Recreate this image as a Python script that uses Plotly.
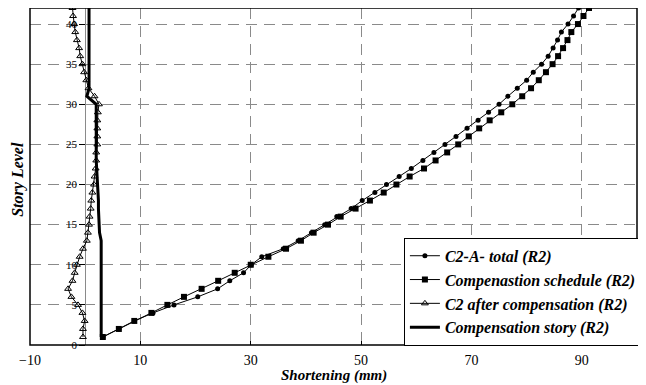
import plotly.graph_objects as go

stories = list(range(1, 43))

total = [3.2, 6.1, 8.9, 12.3, 16.1, 20.4, 24.0, 26.2, 28.7, 30.1,
         32.0, 35.9, 38.6, 41.0, 43.4, 45.6, 48.2, 50.2, 52.5, 54.6,
         56.9, 59.1, 61.2, 63.2, 65.2, 67.2, 69.2, 71.2, 73.1, 75.0,
         76.6, 78.3, 80.0, 81.2, 82.7, 83.9, 84.8, 85.6, 86.3, 87.5,
         88.5, 89.4]

schedule = [3.2, 6.1, 8.9, 12.0, 14.9, 17.9, 21.1, 24.1, 27.1, 30.0,
            33.2, 36.4, 39.1, 41.4, 44.0, 46.3, 49.0, 51.6, 54.1, 56.4,
            58.8, 61.4, 63.5, 65.6, 67.6, 69.5, 71.4, 73.3, 75.4, 77.4,
            79.2, 80.8, 82.2, 83.5, 84.7, 85.7, 86.6, 87.4, 88.1, 89.3,
            90.3, 91.3]

after_comp = [-0.4, -0.4, -0.1, -0.5, -1.3, -2.5, -3.1, -2.3, -1.9, -1.5,
              -1.0, -0.4, 0.3, 0.5, 0.7, 0.8, 1.0, 1.1, 1.3, 1.6,
              1.7, 1.9, 2.0, 2.0, 2.2, 2.2, 2.2, 2.2, 2.3, 2.5,
              1.7, 0.6, 0.2, -0.2, -0.5, -0.9, -1.1, -1.5, -1.8, -2.0,
              -2.2, -2.3]

comp_story = [2.9, 2.9, 2.9, 2.9, 2.9, 2.9, 2.9, 2.9, 2.9, 2.9,
              2.9, 2.9, 2.9, 2.6, 2.5, 2.5, 2.4, 2.4, 2.3, 2.3,
              2.2, 2.1, 2.0, 2.0, 2.0, 2.0, 2.0, 2.0, 2.0, 2.0,
              0.3, 0.7, 0.7, 0.7, 0.7, 0.7, 0.7, 0.7, 0.7, 0.7,
              0.7, 0.7]

x_ticks = [-10, 10, 30, 50, 70, 90]
y_ticks = [0, 5, 10, 15, 20, 25, 30, 35, 40]

SERIF = "Liberation Serif, Times New Roman, DejaVu Serif, serif"

fig = go.Figure()
fig.add_trace(go.Scatter(
    x=total, y=stories, mode="lines+markers", name="C2-A- total (R2)",
    line=dict(color="black", width=1),
    marker=dict(symbol="circle", size=5, color="black")))
fig.add_trace(go.Scatter(
    x=schedule, y=stories, mode="lines+markers", name="Compenastion schedule (R2)",
    line=dict(color="black", width=1),
    marker=dict(symbol="square", size=6, color="black")))
fig.add_trace(go.Scatter(
    x=after_comp, y=stories, mode="lines+markers", name="C2 after compensation (R2)",
    line=dict(color="black", width=1),
    marker=dict(symbol="triangle-up-open", size=6, color="black", line=dict(width=1))))
fig.add_trace(go.Scatter(
    x=comp_story, y=stories, mode="lines", name="Compensation story (R2)",
    line=dict(color="black", width=3)))

grid_col = "#8a8a8a"
fig.update_layout(
    width=646, height=385,
    margin=dict(l=22, r=17, t=0, b=48, autoexpand=False),
    paper_bgcolor="white", plot_bgcolor="white",
    font=dict(family=SERIF, color="black"),
    xaxis=dict(
        range=[-10, 100], tickvals=x_ticks, showgrid=True, gridcolor=grid_col,
        griddash="11px,7px", gridwidth=1, zeroline=True, zerolinecolor=grid_col,
        zerolinewidth=1, ticks="inside", ticklen=4, tickcolor="black",
        ticklabelstandoff=5,
        tickfont=dict(family=SERIF, size=14), showline=False, automargin=False),
    yaxis=dict(
        range=[0, 42], tickvals=y_ticks, showgrid=True, gridcolor=grid_col,
        griddash="11px,7px", gridwidth=1, zeroline=False,
        anchor="free", position=10 / 110, ticks="outside", ticklen=6,
        tickcolor="black", tickfont=dict(family=SERIF, size=11), showline=False,
        automargin=False),
    legend=dict(
        x=0.616, y=0.318, xanchor="left", yanchor="top",
        bgcolor="white", bordercolor="black", borderwidth=1,
        font=dict(family=SERIF, size=16, weight="bold", style="italic"),
        itemwidth=30),
    shapes=[dict(type="rect", xref="paper", yref="paper", x0=0, y0=0, x1=1, y1=1,
                 line=dict(color="black", width=1.5), layer="above")],
    annotations=[
        dict(text="Story Level", xref="paper", yref="paper", x=-0.038, y=0.493,
             textangle=-90, showarrow=False,
             font=dict(family=SERIF, size=16, weight="bold", style="italic")),
        dict(text="Shortening (mm)", xref="paper", yref="paper", x=0.5008, y=-0.123,
             showarrow=False,
             font=dict(family=SERIF, size=15, weight="bold", style="italic")),
    ],
)

fig.write_html("out.html")
